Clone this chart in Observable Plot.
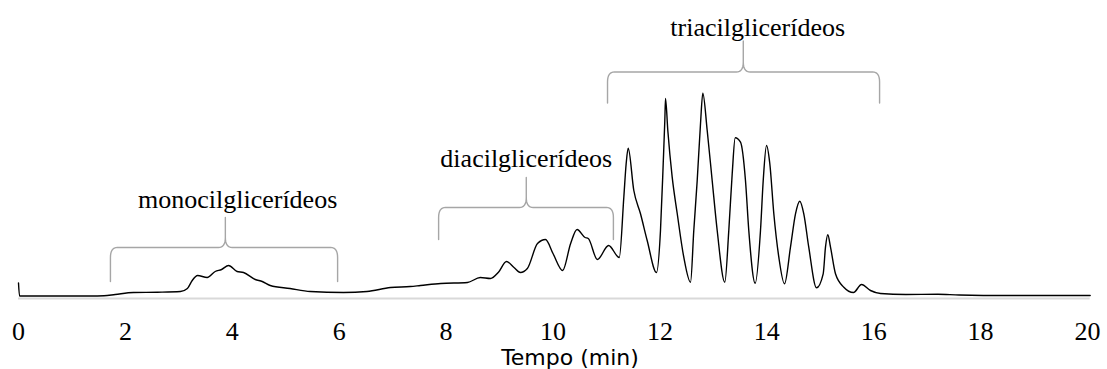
<!DOCTYPE html>
<html>
<head>
<meta charset="utf-8">
<script src="https://cdn.jsdelivr.net/npm/d3@7"></script>
<script src="https://cdn.jsdelivr.net/npm/@observablehq/plot@0.6"></script>
<style>
  html, body { margin: 0; padding: 0; background: #fff; }
  #chart { width: 1107px; height: 369px; overflow: hidden; }
</style>
</head>
<body>
<div id="chart"></div>
<script>
// ---- data ----
const time = [
  0, 0.02, 1.35, 1.6, 1.81, 2.15, 2.6, 3.03, 3.16, 3.25, 3.35, 3.53, 3.68, 3.8, 3.93,
  4.09, 4.21, 4.43, 4.56, 4.71, 5.08, 5.46, 6.08, 6.52, 6.96, 7.33, 7.52, 7.9, 8.4,
  8.64, 8.83, 8.98, 9.13, 9.27, 9.39, 9.52, 9.71, 9.86, 10.0, 10.18, 10.33, 10.45,
  10.6, 10.66, 10.83, 11.04, 11.24, 11.325, 11.369, 11.407, 11.512, 11.637, 11.762,
  11.936, 12.011, 12.062, 12.092, 12.105, 12.148, 12.23, 12.324, 12.447, 12.573,
  12.634, 12.698, 12.76, 12.803, 12.885, 12.978, 13.072, 13.214, 13.289, 13.353,
  13.409, 13.508, 13.601, 13.663, 13.783, 13.882, 13.933, 13.995, 14.056, 14.131,
  14.225, 14.331, 14.443, 14.537, 14.617, 14.692, 14.785, 14.93, 15.055, 15.098,
  15.141, 15.192, 15.285, 15.441, 15.622, 15.772, 15.94, 16.127, 16.6, 17.2, 17.6,
  18.5, 20.05
];
const signal = [
  13, 0, 0, 0.2, 1.5, 3.5, 3.8, 4.5, 7.5, 15.5, 20.5, 18.5, 24.5, 26.5, 30.5,
  24.5, 23.5, 16.5, 14.5, 10.5, 7.5, 4.5, 3.5, 4.5, 8.5, 9.5, 10.5, 12.5, 13.5,
  18.5, 17.5, 23.8, 34.5, 28.5, 23.5, 27.5, 52.5, 56.5, 42.5, 25.5, 52.5, 66.5,
  58.5, 57.5, 36.5, 50.5, 38.5, 98.8, 132.5, 147.8, 105.5, 82.2, 55.5,
  23.5, 65.5, 132.5, 175.5, 197.5, 165.5, 118.8, 82.5, 38.8, 13.8,
  65.5, 115.5, 172.5, 202.8, 165.5, 115.5, 65.5, 13.8, 65.5, 122.5,
  158.2, 153.8, 115.5, 65.5, 12.8, 65.5, 115.5, 150.5, 132.5, 82.5,
  38.8, 12.2, 48.8, 82.2, 94.8, 82.2, 48.8, 8.2, 22.2, 48.8,
  61.2, 48.8, 22.2, 8.8, 3.5, 11.5, 5.5, 2.5, 1.5, 1.8, 1.0,
  0.5, 0.5
];
const xTicks = [0, 2, 4, 6, 8, 10, 12, 14, 16, 18, 20];
const xLabel = "Tempo (min)";

// bracket annotations
const groupNames = ["monocilglicerídeos", "diacilglicerídeos", "triacilglicerídeos"];
const bracketStart = [1.72, 7.86, 11.02];
const bracketEnd = [5.97, 11.13, 16.11];
const bracketMid = [3.87, 9.5, 13.56];
const bracketEndLevel = [14.5, 56.5, 193];
const bracketLevel = [48.5, 88.5, 224];
const bracketTipLevel = [78.5, 118.5, 255];
const labelX = [4.1, 9.5, 13.83];
const labelLevel = [88.5, 129.5, 260.5];

// ---- build tables ----
const trace = time.map((t, i) => ({t, v: signal[i]}));

function quad(p0, c, p1, n = 8) {
  const out = [];
  for (let k = 1; k <= n; k++) {
    const s = k / n;
    out.push([
      (1 - s) * (1 - s) * p0[0] + 2 * (1 - s) * s * c[0] + s * s * p1[0],
      (1 - s) * (1 - s) * p0[1] + 2 * (1 - s) * s * c[1] + s * s * p1[1]
    ]);
  }
  return out;
}
const rx = 0.13, ry = 10;
const braces = [];
groupNames.forEach((name, i) => {
  const x0 = bracketStart[i], x1 = bracketEnd[i], xm = bracketMid[i];
  const yE = bracketEndLevel[i], yH = bracketLevel[i], yT = bracketTipLevel[i];
  let pts = [[x0, yE], [x0, yH - ry]];
  pts = pts.concat(quad([x0, yH - ry], [x0, yH], [x0 + rx, yH]));
  pts.push([xm - rx, yH]);
  pts = pts.concat(quad([xm - rx, yH], [xm, yH], [xm, yH + ry]));
  pts.push([xm, yT]);
  pts.push([xm, yH + ry]);
  pts = pts.concat(quad([xm, yH + ry], [xm, yH], [xm + rx, yH]));
  pts.push([x1 - rx, yH]);
  pts = pts.concat(quad([x1 - rx, yH], [x1, yH], [x1, yH - ry]));
  pts.push([x1, yE]);
  pts.forEach(([x, y]) => braces.push({g: name, x, y}));
});
const labels = groupNames.map((name, i) => ({name, x: labelX[i], y: labelLevel[i]}));

const serif = "'Liberation Serif', 'Times New Roman', serif";
const chart = Plot.plot({
  width: 1107,
  height: 369,
  marginLeft: 18,
  marginRight: 20,
  marginTop: 0,
  marginBottom: 71,
  style: {background: "#fff", color: "#000", fontFamily: serif, fontSize: "26px", overflow: "visible"},
  x: {domain: [0, 20], axis: null},
  y: {domain: [-2.5, 295.5], axis: null},
  marks: [
    Plot.ruleY([-2.5], {x1: 0, x2: 20.05, stroke: "#d9d9d9", strokeWidth: 2}),
    Plot.text(xTicks, {x: d => d, text: d => String(d), frameAnchor: "bottom", dy: 41, lineAnchor: "bottom", fontSize: 26, fontFamily: serif, fill: "#000"}),
    Plot.text([xLabel], {frameAnchor: "bottom", dx: 17, dy: 66, lineAnchor: "bottom", fontFamily: "'DejaVu Sans', sans-serif", fontSize: 22, fill: "#000"}),
    Plot.line(braces, {x: "x", y: "y", z: "g", stroke: "#a6a6a6", strokeWidth: 1.4, curve: "linear"}),
    Plot.text(labels, {x: "x", y: "y", text: "name", lineAnchor: "bottom", fontSize: 26, fontFamily: serif, fill: "#000"}),
    Plot.line(trace, {x: "t", y: "v", stroke: "#000", strokeWidth: 1.4, curve: "monotone-x"})
  ]
});
document.getElementById("chart").appendChild(chart);
</script>
</body>
</html>
